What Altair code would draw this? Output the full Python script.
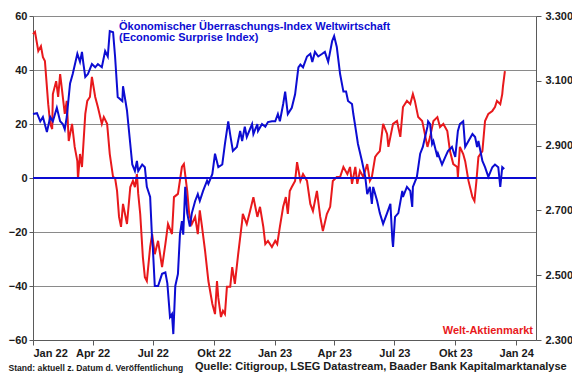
import altair as alt
import pandas as pd

# ---------------- data ----------------
blue_dates = [
    "2022-01-01", "2022-01-07", "2022-01-12", "2022-01-16", "2022-01-22", "2022-01-27", "2022-01-31",
    "2022-02-06", "2022-02-11", "2022-02-15", "2022-02-18", "2022-02-21", "2022-02-26", "2022-03-02",
    "2022-03-09", "2022-03-13", "2022-03-16", "2022-03-18", "2022-03-21", "2022-03-25", "2022-03-31",
    "2022-04-05", "2022-04-09", "2022-04-15", "2022-04-20", "2022-04-24", "2022-04-27", "2022-05-02",
    "2022-05-05", "2022-05-09", "2022-05-16", "2022-05-17", "2022-05-23", "2022-05-25", "2022-05-31",
    "2022-06-04", "2022-06-07", "2022-06-09", "2022-06-15", "2022-06-19", "2022-06-22", "2022-06-27",
    "2022-06-30", "2022-07-01", "2022-07-04", "2022-07-09", "2022-07-15", "2022-07-20", "2022-07-23",
    "2022-07-27", "2022-07-30", "2022-08-01", "2022-08-04", "2022-08-08", "2022-08-11", "2022-08-14",
    "2022-08-16", "2022-08-19", "2022-08-22", "2022-08-26", "2022-08-29", "2022-09-03", "2022-09-07",
    "2022-09-10", "2022-09-15", "2022-09-21", "2022-09-23", "2022-09-29", "2022-10-03", "2022-10-08",
    "2022-10-14", "2022-10-18", "2022-10-23", "2022-10-26", "2022-10-30", "2022-11-05", "2022-11-10",
    "2022-11-13", "2022-11-17", "2022-11-20", "2022-11-28", "2022-11-30", "2022-12-06", "2022-12-07",
    "2022-12-13", "2022-12-18", "2022-12-22", "2022-12-28", "2023-01-02", "2023-01-06", "2023-01-09",
    "2023-01-14", "2023-01-17", "2023-01-21", "2023-01-27", "2023-02-01", "2023-02-06", "2023-02-09",
    "2023-02-13", "2023-02-19", "2023-02-24", "2023-02-27", "2023-03-03", "2023-03-08", "2023-03-14",
    "2023-03-18", "2023-03-23", "2023-03-29", "2023-04-01", "2023-04-05", "2023-04-10", "2023-04-15",
    "2023-04-19", "2023-04-22", "2023-04-28", "2023-04-30", "2023-05-03", "2023-05-07", "2023-05-13",
    "2023-05-18", "2023-05-21", "2023-05-25", "2023-05-28", "2023-05-30", "2023-06-05", "2023-06-09",
    "2023-06-14", "2023-06-20", "2023-06-25", "2023-06-28", "2023-06-29", "2023-07-02", "2023-07-07",
    "2023-07-13", "2023-07-14", "2023-07-20", "2023-07-25", "2023-07-28", "2023-07-29", "2023-08-04",
    "2023-08-09", "2023-08-13", "2023-08-20", "2023-08-21", "2023-08-24", "2023-08-27", "2023-08-29",
    "2023-09-04", "2023-09-05", "2023-09-11", "2023-09-16", "2023-09-20", "2023-09-26", "2023-10-01",
    "2023-10-05", "2023-10-08", "2023-10-13", "2023-10-16", "2023-10-21", "2023-10-27", "2023-10-31",
    "2023-11-03", "2023-11-05", "2023-11-11", "2023-11-15", "2023-11-20", "2023-11-26", "2023-11-30",
    "2023-12-05", "2023-12-08", "2023-12-11", "2023-12-14",
]
blue_values = [
    23.7, 24, 21, 22.6, 17, 22.6, 21,
    26, 21, 20, 18, 22.6, 35, 38.5,
    46, 43, 46.7, 42.6, 37.4, 38.5, 42.2,
    41, 42.2, 41, 47, 45, 54.4, 54,
    45, 30, 28.5, 34, 25, 20, 5,
    2.6, 6.3, 2.6, 5, 4, -3.3, -7,
    -23, -25.5, -40, -40, -35.5, -35, -39,
    -51.5, -50.4, -57.8, -40, -35.5, -21, -16,
    -21, -3.3, -13, -18, -13, -8.5, -6,
    -8.5, -4.8, -1, -2.2, 1.5, 9, 4,
    5, 12.6, 21, 16, 10, 11.5, 17.4,
    13.7, 19, 15.2, 20, 16.3, 20, 17.4,
    20, 19, 20.7, 21, 21, 23.7, 21,
    27.4, 32, 23.7, 26, 31, 41, 42,
    41, 45, 46, 43, 46.7, 45, 46,
    46.7, 43, 50.7, 52.6, 48.5, 38.5, 32,
    32, 28.5, 27.4, 23.7, 19, 12.6, 6.3,
    0.4, -6, -3.3, -9.6, -3.3, -8.5, -13,
    -17, -13, -9.6, -23, -25.5, -14.4, -13,
    -4.8, -7, -3.3, -4.8, -10.7, -3.3, 0.4,
    9, 11.5, 19, 21, 20, 12.6, 13.7,
    7.8, 9, 5, 7.8, 10, 11.5, 7.8,
    17.4, 20, 21, 11.5, 13.7, 16.3, 15.2,
    11.5, 13.7, 6.3, 4, 0.4, 4, 5,
    4, -3.3, 4, 3.3,
]

red_dates = [
    "2022-01-01", "2022-01-04", "2022-01-09", "2022-01-13", "2022-01-16", "2022-01-19", "2022-01-24",
    "2022-01-27", "2022-01-30", "2022-01-31", "2022-02-05", "2022-02-08", "2022-02-11", "2022-02-14",
    "2022-02-18", "2022-02-21", "2022-02-24", "2022-03-01", "2022-03-05", "2022-03-09", "2022-03-10",
    "2022-03-13", "2022-03-16", "2022-03-21", "2022-03-24", "2022-03-28", "2022-03-31", "2022-04-05",
    "2022-04-09", "2022-04-15", "2022-04-18", "2022-04-23", "2022-04-27", "2022-05-02", "2022-05-05",
    "2022-05-08", "2022-05-11", "2022-05-14", "2022-05-17", "2022-05-23", "2022-05-28", "2022-06-01",
    "2022-06-04", "2022-06-07", "2022-06-09", "2022-06-12", "2022-06-16", "2022-06-19", "2022-06-22",
    "2022-06-27", "2022-06-30", "2022-07-04", "2022-07-09", "2022-07-15", "2022-07-20", "2022-07-24",
    "2022-07-30", "2022-08-02", "2022-08-08", "2022-08-14", "2022-08-17", "2022-08-22", "2022-08-25",
    "2022-08-29", "2022-09-03", "2022-09-07", "2022-09-10", "2022-09-13", "2022-09-18", "2022-09-23",
    "2022-09-29", "2022-10-03", "2022-10-06", "2022-10-08", "2022-10-12", "2022-10-15", "2022-10-18",
    "2022-10-21", "2022-10-26", "2022-10-29", "2022-11-02", "2022-11-07", "2022-11-13", "2022-11-14",
    "2022-11-20", "2022-11-25", "2022-11-30", "2022-12-06", "2022-12-10", "2022-12-15", "2022-12-18",
    "2022-12-22", "2022-12-28", "2023-01-02", "2023-01-05", "2023-01-09", "2023-01-14", "2023-01-18",
    "2023-01-21", "2023-01-24", "2023-01-27", "2023-02-01", "2023-02-04", "2023-02-09", "2023-02-13",
    "2023-02-19", "2023-02-24", "2023-02-28", "2023-03-06", "2023-03-11", "2023-03-15", "2023-03-21",
    "2023-03-26", "2023-03-30", "2023-04-05", "2023-04-10", "2023-04-15", "2023-04-21", "2023-04-25",
    "2023-04-28", "2023-05-03", "2023-05-06", "2023-05-10", "2023-05-15", "2023-05-21", "2023-05-25",
    "2023-05-28", "2023-06-02", "2023-06-05", "2023-06-09", "2023-06-14", "2023-06-20", "2023-06-22",
    "2023-06-25", "2023-06-29", "2023-07-05", "2023-07-10", "2023-07-14", "2023-07-20", "2023-07-25",
    "2023-07-29", "2023-08-01", "2023-08-06", "2023-08-12", "2023-08-13", "2023-08-20", "2023-08-24",
    "2023-08-29", "2023-09-04", "2023-09-08", "2023-09-13", "2023-09-19", "2023-09-23", "2023-09-28",
    "2023-10-04", "2023-10-05", "2023-10-08", "2023-10-13", "2023-10-16", "2023-10-21", "2023-10-27",
    "2023-10-30", "2023-11-02", "2023-11-05", "2023-11-11", "2023-11-15", "2023-11-20", "2023-11-26",
    "2023-11-30", "2023-12-03", "2023-12-08", "2023-12-11", "2023-12-12", "2023-12-15",
]
red_values = [
    3244, 3251, 3192, 3207, 3173, 3161, 3028,
    2967, 2951, 3059, 3099, 3050, 3121, 3069,
    2998, 3038, 2914, 2967, 2896, 2852, 2797,
    2874, 2834, 2998, 3038, 3050, 3112, 3050,
    3019, 2967, 2988, 2967, 2874, 2803, 2800,
    2760, 2680, 2649, 2720, 2658, 2772, 2791,
    2772, 2812, 2751, 2689, 2556, 2494, 2482,
    2587, 2627, 2565, 2606, 2525, 2596, 2658,
    2627, 2741, 2751, 2834, 2843, 2760, 2689,
    2658, 2680, 2627, 2700, 2655, 2575, 2482,
    2411, 2380, 2482, 2430, 2371, 2390, 2380,
    2464, 2464, 2525, 2473, 2565, 2667, 2689,
    2658, 2698, 2741, 2680, 2711, 2649, 2596,
    2606, 2587, 2606, 2596, 2649, 2711, 2741,
    2689, 2760, 2772, 2791, 2849, 2791, 2812,
    2791, 2720, 2698, 2760, 2680, 2636, 2689,
    2711, 2791, 2803, 2803, 2834, 2812, 2834,
    2782, 2834, 2782, 2822, 2803, 2843, 2791,
    2803, 2865, 2874, 2883, 2967, 2936, 2896,
    2927, 2967, 2976, 2927, 3019, 3038, 3028,
    3059, 3038, 2988, 2976, 2967, 2896, 2927,
    2976, 2988, 2957, 2967, 2945, 2883, 2843,
    2834, 2803, 2896, 2874, 2852, 2791, 2741,
    2729, 2791, 2865, 2883, 2976, 2998, 3007,
    3019, 3038, 3028, 3059, 3081, 3130,
]

left_ticks = [-60, -40, -20, 0, 20, 40, 60]
right_ticks = [2300, 2500, 2700, 2900, 3100, 3300]
x_tick_dates = [(2022, 1), (2022, 4), (2022, 7), (2022, 10), (2023, 1), (2023, 4),
                (2023, 7), (2023, 10), (2024, 1)]
month_names = ["Jan", "Apr", "Jul", "Okt"]

title_line1 = "Ökonomischer Überraschungs-Index Weltwirtschaft"
title_line2 = "(Economic Surprise Index)"
red_label = "Welt-Aktienmarkt"
footer_left = "Stand: aktuell z. Datum d. Veröffentlichung"
footer_right = "Quelle: Citigroup, LSEG Datastream, Baader Bank Kapitalmarktanalyse"

# ---------------- styling ----------------
FONT = "Liberation Sans"
BLUE = "#0c0cd2"
RED = "#e8191c"
TXT = "#1a1a1a"
AXC = "#5a5a5a"

blue_df = pd.DataFrame({"date": blue_dates, "value": blue_values})
red_df = pd.DataFrame({"date": red_dates, "value": red_values})

label_expr = ("[" + ",".join("'%s'" % m for m in month_names) + "][floor(utcmonth(datum.value)/3)]"
              " + ' ' + utcFormat(datum.value, '%y')")

x_enc = alt.X(
    "date:T",
    title=None,
    scale=alt.Scale(type="utc", domain=[alt.DateTime(year=2022, month=1, date=1, utc=True),
                                        alt.DateTime(year=2024, month=1, date=31, utc=True)]),
    axis=alt.Axis(
        values=[alt.DateTime(year=y, month=m, date=1, utc=True) for y, m in x_tick_dates],
        labelExpr=label_expr, grid=False, domainColor=AXC, tickColor=AXC, tickSize=5,
        labelPadding=2, labelFont=FONT, labelFontWeight="bold", labelFontSize=11,
        labelColor=TXT, labelOverlap=False,
    ),
)

red_line = alt.Chart(red_df).mark_line(color=RED, strokeWidth=2).encode(
    x=x_enc,
    y=alt.Y("value:Q", title=None,
            scale=alt.Scale(domain=[2300, 3300], nice=False, zero=False),
            axis=alt.Axis(orient="right", values=right_ticks, grid=False,
                          labelExpr="replace(format(datum.value, ','), ',', '.')",
                          domainColor=AXC, tickColor=AXC, tickSize=5, labelPadding=4,
                          labelFont=FONT, labelFontWeight="bold", labelFontSize=11,
                          labelColor=TXT)),
)

blue_line = alt.Chart(blue_df).mark_line(color=BLUE, strokeWidth=2).encode(
    x=x_enc,
    y=alt.Y("value:Q", title=None,
            scale=alt.Scale(domain=[-60, 60], nice=False),
            axis=alt.Axis(orient="left", values=left_ticks, grid=True, gridColor="#8a8a8a",
                          gridWidth=1, domainColor=AXC, tickColor=AXC, tickSize=4,
                          labelPadding=2, labelFont=FONT, labelFontWeight="bold",
                          labelFontSize=11, labelColor=TXT)),
)

zero_rule = alt.Chart(pd.DataFrame({"z": [0]})).mark_rule(color=BLUE, strokeWidth=2).encode(
    y=alt.Y("z:Q", title=None)
)


def label(text, x, y, color, size, align="left"):
    return alt.Chart(pd.DataFrame({"t": [text]})).mark_text(
        align=align, baseline="alphabetic", font=FONT, fontWeight="bold",
        fontSize=size, color=color,
    ).encode(x=alt.value(x), y=alt.value(y), text="t:N")


texts = [
    label(title_line1, 86, 13.5, BLUE, 11),
    label(title_line2, 86, 25, BLUE, 11),
    label(red_label, 500, 318, RED, 11, "right"),
    label(footer_left, -24.5, 355, TXT, 8.6),
    label(footer_right, 162, 353.5, TXT, 11),
]

chart = alt.layer(
    red_line, alt.layer(blue_line, zero_rule), *texts
).resolve_scale(y="independent").properties(
    width=503, height=324,
    autosize=alt.AutoSizeParams(type="none"),
    padding={"left": 25, "top": 8, "right": 36, "bottom": 35},
).configure_view(stroke="#8a8a8a", strokeWidth=1).configure(background="white")

chart.save("out.html", embed_options={"renderer": "svg", "actions": False})
